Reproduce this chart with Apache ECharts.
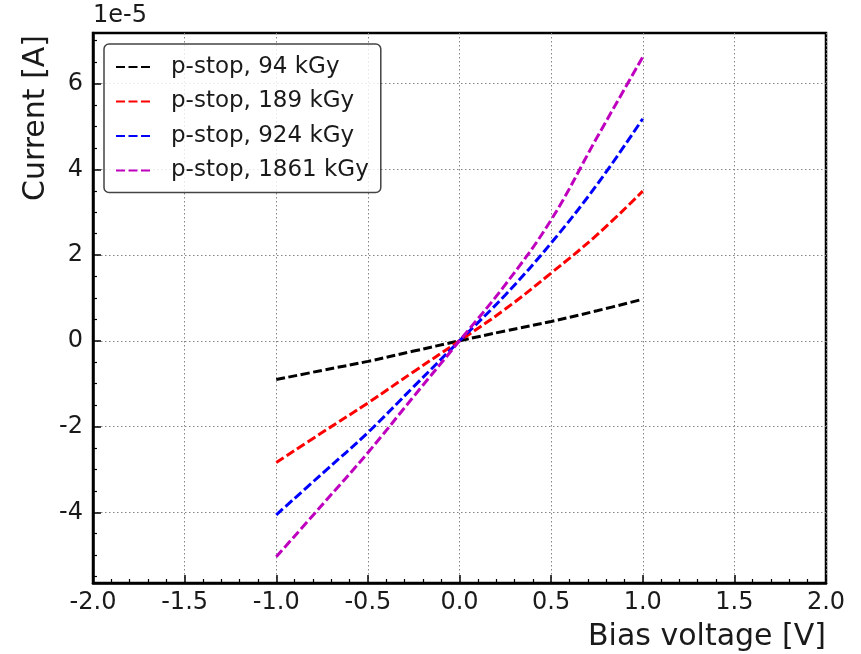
<!DOCTYPE html>
<html>
<head>
<meta charset="utf-8">
<script src="https://cdn.jsdelivr.net/npm/echarts@6/dist/echarts.min.js"></script>
<style>
  html, body { margin: 0; padding: 0; background: #fff; }
  #chart { width: 861px; height: 654px; }
</style>
</head>
<body>
<div id="chart"></div>
<script>
// Bias voltage [V]
const voltage = [-1, -0.75, -0.5, -0.25, 0, 0.25, 0.5, 0.75, 1];
// Current in units of 1e-5 A
const i94   = [-0.905, -0.69, -0.48, -0.24, 0, 0.23, 0.45, 0.70, 0.97];
const i189  = [-2.84, -2.14, -1.45, -0.72, 0, 0.74, 1.58, 2.47, 3.49];
const i924  = [-4.06, -3.10, -2.14, -1.07, 0, 1.07, 2.28, 3.64, 5.18];
const i1861 = [-5.04, -3.83, -2.61, -1.30, 0, 1.31, 2.82, 4.74, 6.62];

const seriesNames = ['p-stop, 94 kGy', 'p-stop, 189 kGy', 'p-stop, 924 kGy', 'p-stop, 1861 kGy'];
const seriesData = [i94, i189, i924, i1861];
const seriesColors = ['#000000', '#ff0000', '#0000ff', '#bf00bf'];

const yMajorTicks = [-4, -2, 0, 2, 4, 6];
const yMinorTicks = [-5.5, -5, -4.5, -3.5, -3, -2.5, -1.5, -1, -0.5, 0.5, 1, 1.5, 2.5, 3, 3.5, 4.5, 5, 5.5, 6.5, 7];

const Y_MIN = -5.65, Y_MAX = 7.18;
const FONT = 'DejaVu Sans';

const gridLine = { show: true, lineStyle: { color: '#858585', width: 1, type: [1.5, 2.5] } };

const chart = echarts.init(document.getElementById('chart'), null, { renderer: 'canvas' });

chart.setOption({
  animation: false,
  backgroundColor: '#ffffff',
  grid: {
    left: 93, right: 35, top: 33, bottom: 71,
    show: true, borderColor: '#000', borderWidth: 2.5, backgroundColor: 'transparent'
  },
  legend: {
    orient: 'vertical',
    left: 104, top: 44,
    padding: [11, 12, 10, 11],
    itemWidth: 35, itemHeight: 14, itemGap: 10.5,
    backgroundColor: 'rgba(255,255,255,0.8)',
    borderColor: '#444', borderWidth: 1.5, borderRadius: 5,
    itemStyle: { opacity: 0 },
    textStyle: { fontFamily: FONT, fontSize: 23, color: '#1a1a1a', lineHeight: 24, padding: [0, 0, 0, 15] },
    data: seriesNames
  },
  xAxis: {
    type: 'value', min: -2, max: 2, interval: 0.5,
    axisLine: { show: true, onZero: false, lineStyle: { color: '#000', width: 2.5 } },
    axisTick: { show: true, inside: true, length: 8, lineStyle: { color: '#000', width: 1.5 } },
    minorTick: { show: true, splitNumber: 5, length: 4, lineStyle: { color: '#000', width: 1.2 } },
    axisLabel: { fontFamily: FONT, fontSize: 24, color: '#1a1a1a', margin: 8,
                 formatter: v => v.toFixed(1) },
    splitLine: gridLine
  },
  yAxis: [{
    type: 'value', min: Y_MIN, max: Y_MAX, position: 'left',
    axisLine: { show: true, onZero: false, lineStyle: { color: '#000', width: 2.5 } },
    axisTick: { show: true, inside: true, length: 8, customValues: yMajorTicks,
                lineStyle: { color: '#000', width: 1.5 } },
    axisLabel: { fontFamily: FONT, fontSize: 24, color: '#1a1a1a', margin: 10,
                 customValues: yMajorTicks, formatter: v => String(Math.round(v)) },
    splitLine: gridLine
  }, {
    type: 'value', min: Y_MIN, max: Y_MAX, position: 'left', offset: 0,
    axisLine: { show: false, onZero: false },
    axisTick: { show: true, inside: true, length: 4, customValues: yMinorTicks,
                lineStyle: { color: '#000', width: 1.2 } },
    axisLabel: { show: false },
    splitLine: { show: false }
  }],
  series: seriesNames.map((name, k) => ({
    name: name,
    type: 'line',
    yAxisIndex: 0,
    data: voltage.map((v, j) => [v, seriesData[k][j]]),
    showSymbol: false,
    symbol: 'none',
    smooth: 0.4,
    color: seriesColors[k],
    lineStyle: { color: seriesColors[k], width: 3, type: [9, 3.5] },
    z: 3
  })),
  graphic: [
    { type: 'text', left: 93, top: 4,
      style: { text: '1e-5', fontFamily: FONT, fontSize: 24, fill: '#1a1a1a' } },
    { type: 'text', x: 826, y: 637,
      style: { text: 'Bias voltage [V]', fontFamily: FONT, fontSize: 30, fill: '#1a1a1a',
               textAlign: 'right', textVerticalAlign: 'middle' } },
    { type: 'text', x: 36, y: 118, rotation: Math.PI / 2,
      style: { text: 'Current [A]', fontFamily: FONT, fontSize: 30, fill: '#1a1a1a',
               textAlign: 'center', textVerticalAlign: 'middle' } }
  ]
});
</script>
</body>
</html>
